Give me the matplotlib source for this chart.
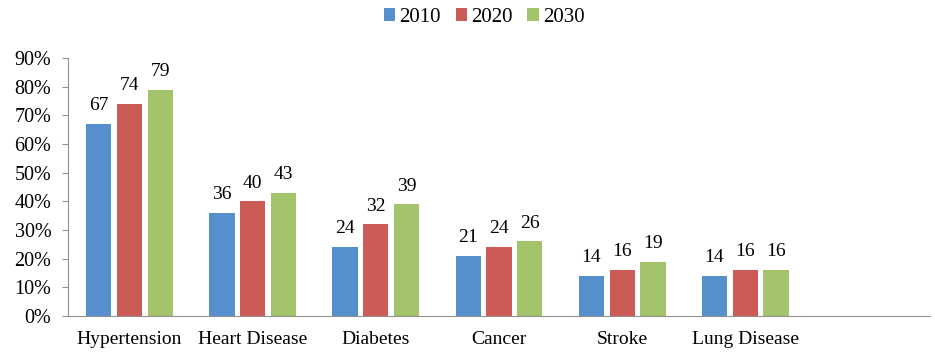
import numpy as np
import matplotlib.pyplot as plt

categories = ["Hypertension", "Heart Disease", "Diabetes", "Cancer", "Stroke", "Lung Disease"]
years = ["2010", "2020", "2030"]
v2010 = [67, 36, 24, 21, 14, 14]
v2020 = [74, 40, 32, 24, 16, 16]
v2030 = [79, 43, 39, 26, 19, 16]
yticks = [0, 10, 20, 30, 40, 50, 60, 70, 80, 90]

colors = ["#558fcc", "#cc5b57", "#a2c36a"]

plt.rcParams["font.family"] = ["Liberation Serif", "DejaVu Serif"]

fig = plt.figure(figsize=(9.35, 3.52), dpi=100)
ax = fig.add_axes([0.0727, 0.1023, 0.922, 0.7327])

x = np.arange(len(categories))
width = 0.205
step = 0.25
bars = []
for i, (vals, col, lab) in enumerate(zip([v2010, v2020, v2030], colors, years)):
    b = ax.bar(x + (i - 1) * step, vals, width, color=col, label=lab)
    bars.append(b)
    ax.bar_label(b, labels=[str(v) for v in vals], padding=7, fontsize=14)

ax.set_xlim(-0.5, len(categories) + 0.5)
ax.set_ylim(0, 90)
ax.set_yticks(yticks)
ax.set_yticklabels([f"{t}%" for t in yticks], fontsize=14.5)
ax.set_xticks(x)
ax.set_xticklabels(categories, fontsize=14)
ax.tick_params(axis="x", length=0, pad=11)
ax.tick_params(axis="y", length=4, direction="out", color="#9a8f8f", pad=8)

for s in ["top", "right"]:
    ax.spines[s].set_visible(False)
ax.spines["left"].set_color("#9a8f8f")
ax.spines["bottom"].set_color("#9a8f8f")

fig.legend(handles=bars, labels=years, loc="center", bbox_to_anchor=(0.518, 0.95),
           ncol=3, frameon=False, fontsize=15, handlelength=0.55, handleheight=0.55,
           handletextpad=0.2, columnspacing=0.7)

fig.savefig("out.png", dpi=100)
